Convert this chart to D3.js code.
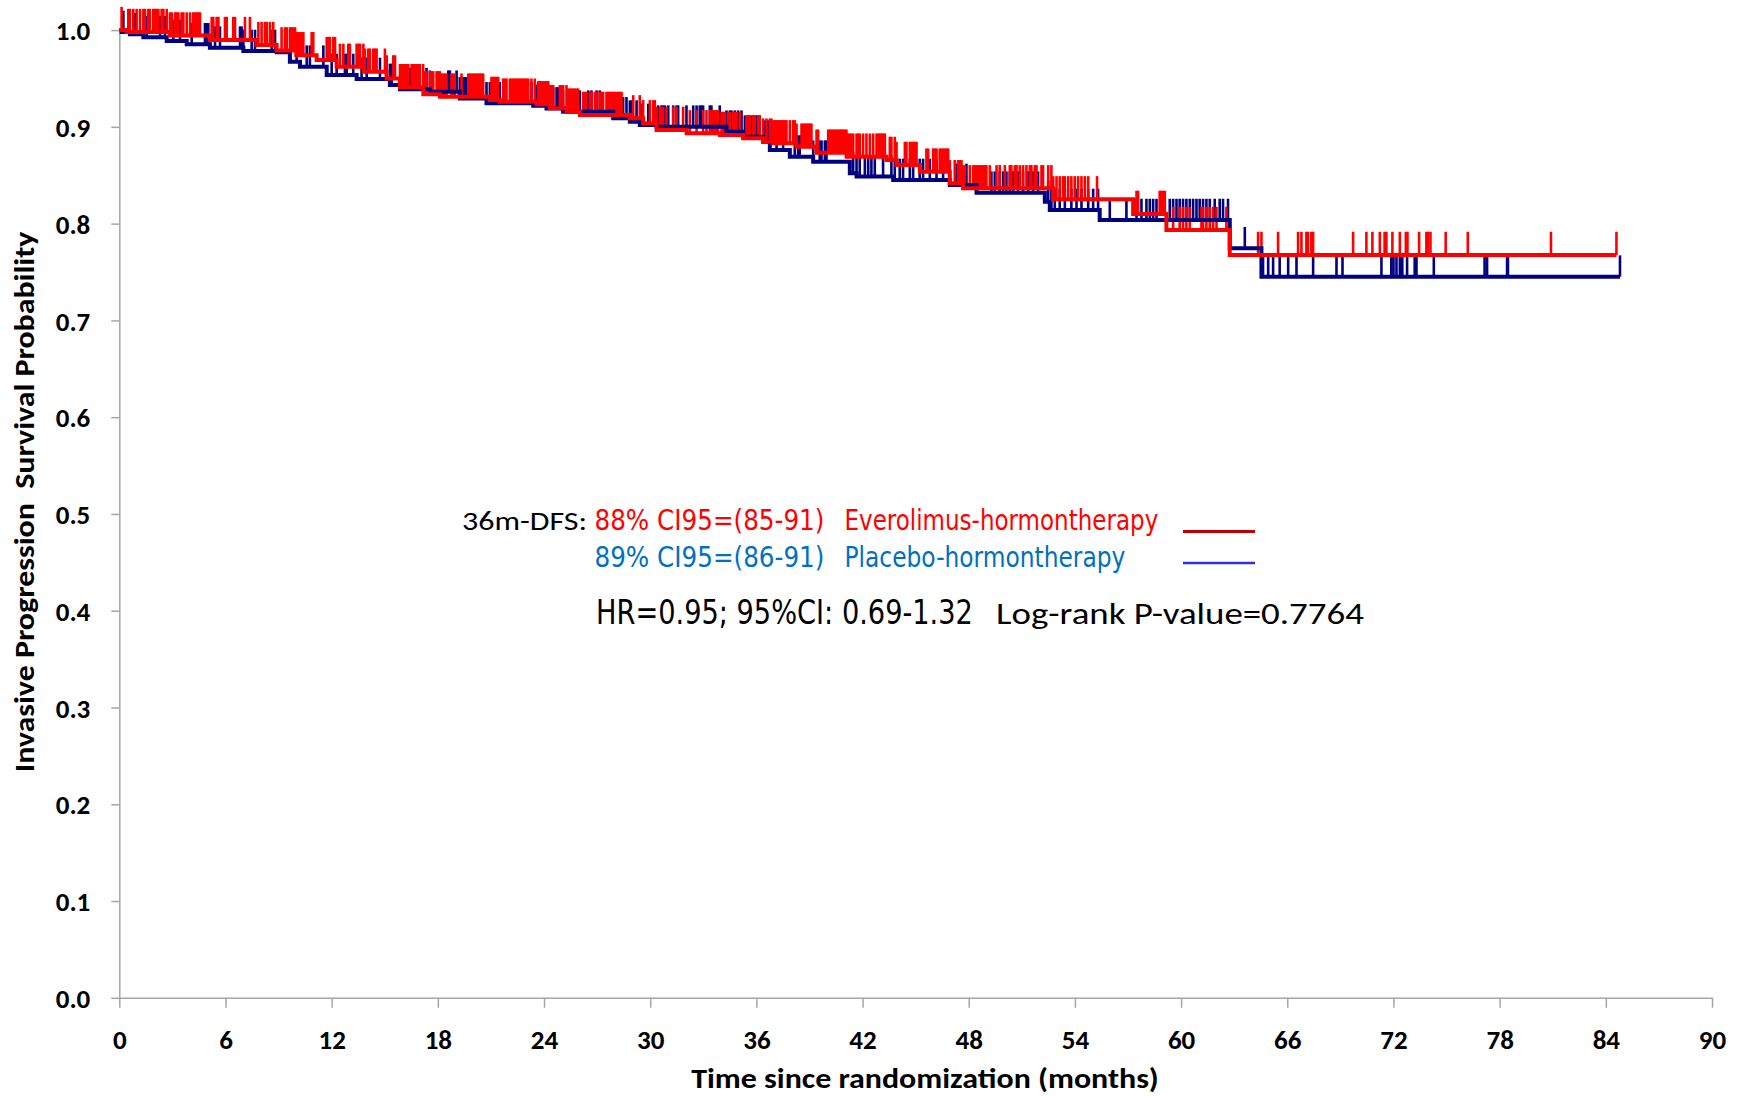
<!DOCTYPE html>
<html><head><meta charset="utf-8">
<script src="https://cdn.jsdelivr.net/npm/d3@7"></script>
<style>
html,body{margin:0;padding:0;background:#fff;}
svg{display:block;}
</style></head>
<body>
<svg id="chart" width="1748" height="1097"></svg>
<script>
// ---------- data ----------
const xTicks = [0,6,12,18,24,30,36,42,48,54,60,66,72,78,84,90];
const yTicks = [0,0.1,0.2,0.3,0.4,0.5,0.6,0.7,0.8,0.9,1.0];
const xTitle = "Time since randomization (months)";
const yTitle = "Invasive Progression  Survival Probability";

// Everolimus-hormontherapy (red): step times (months) and survival after each step
const redStepTimes = [0,0.42,2.86,5.12,7.76,8.89,10.0,11.15,12.28,13.8,15.1,15.86,17.18,18.12,20.94,21.5,23.58,24.33,25.28,26.03,28.85,29.6,30.36,32.06,33.94,35.25,36.38,36.95,38.27,39.4,41.1,43.36,43.92,45.24,46.93,47.68,52.77,57.29,59.17,62.75];
const redStepSurv  = [1.0,0.998,0.9944,0.9897,0.9845,0.979,0.974,0.969,0.962,0.957,0.950,0.941,0.9336,0.9312,0.9278,0.926,0.9233,0.9192,0.9157,0.9123,0.9088,0.9037,0.8968,0.8933,0.8916,0.8882,0.8847,0.883,0.8795,0.8733,0.8692,0.8658,0.8606,0.8537,0.8417,0.8365,0.8251,0.81,0.7934,0.7676];
const redEnd = 84.6;
const redCensor = [0.13,0.51,0.6,0.79,0.98,1.17,1.36,1.45,1.64,1.73,1.92,2.02,2.11,2.21,2.39,2.49,2.68,2.86,2.96,3.15,3.24,3.34,3.52,3.62,3.81,4.0,4.18,4.28,4.37,4.47,4.56,5.22,5.31,5.5,5.6,5.97,6.07,6.44,6.54,7.1,7.38,7.86,8.04,8.23,8.33,8.51,8.7,9.17,9.36,9.46,9.64,9.74,9.83,9.93,10.02,10.12,10.21,10.3,10.4,10.87,10.96,11.72,11.81,11.9,12.09,12.19,12.47,12.66,12.94,13.03,13.41,13.51,13.6,13.79,13.88,14.07,14.16,14.35,14.45,14.54,15.01,15.11,15.48,15.58,15.86,15.95,16.05,16.14,16.24,16.33,16.52,16.61,16.71,16.8,16.9,16.98,17.17,17.27,17.36,17.55,17.64,17.74,17.93,18.02,18.11,18.21,18.3,18.4,18.49,18.77,18.87,18.96,19.34,19.72,19.81,19.9,20.0,20.09,20.19,20.28,20.37,20.47,20.56,21.03,21.13,21.22,21.32,21.41,21.69,21.79,21.88,22.07,22.16,22.26,22.35,22.45,22.54,22.63,22.73,22.82,22.92,23.01,23.11,23.29,23.48,23.67,23.76,23.86,23.95,24.05,24.14,24.24,24.33,24.42,24.52,24.89,24.99,25.08,25.27,25.37,25.46,25.55,25.65,25.74,25.84,25.93,26.21,26.31,26.4,26.59,26.68,26.87,26.97,27.15,27.25,27.34,27.53,27.63,27.72,27.81,27.91,28.0,28.1,28.19,28.28,28.38,29.04,29.41,29.6,29.98,30.17,30.26,30.36,30.54,30.64,30.73,30.92,31.3,31.49,31.86,32.24,32.62,32.99,33.18,33.37,33.46,33.56,33.65,33.75,33.84,34.03,34.12,34.22,34.41,34.5,34.69,34.78,34.88,35.06,35.44,35.54,35.63,35.82,35.91,36.1,36.19,36.38,36.57,36.76,36.85,36.95,37.04,37.14,37.23,37.32,37.42,37.51,37.61,37.7,37.89,38.08,38.17,38.27,38.55,38.64,38.74,38.83,38.93,39.02,39.11,39.4,39.49,40.06,40.15,40.24,40.34,40.43,40.53,40.62,40.71,40.81,40.9,41.0,41.09,41.19,41.28,41.37,41.47,41.66,41.75,41.84,42.03,42.22,42.41,42.6,42.79,42.88,42.97,43.07,43.16,43.26,43.54,43.63,43.82,43.92,44.39,44.48,44.67,44.76,44.86,44.95,45.05,45.61,45.71,45.99,46.08,46.18,46.36,46.46,46.55,46.65,46.74,46.84,46.93,47.21,47.4,47.49,47.59,47.68,47.78,48.06,48.25,48.34,48.44,48.53,48.62,48.72,48.81,48.91,49.0,49.19,49.57,49.75,50.04,50.32,50.41,50.6,50.7,50.88,51.07,51.26,51.45,51.54,51.73,51.83,52.11,52.2,52.49,52.67,52.77,52.96,53.14,53.33,53.43,53.62,53.8,53.99,54.18,54.37,54.56,54.75,55.25,57.48,57.57,58.79,58.89,58.98,59.08,59.55,59.92,60.11,60.3,60.49,61.15,61.24,61.43,61.62,61.81,62.0,62.56,64.35,64.54,65.48,66.61,66.8,67.08,67.17,67.36,67.46,69.72,70.47,70.81,71.23,71.5,71.6,71.94,72.36,72.7,72.79,73.45,73.86,73.95,74.09,74.95,76.2,80.9,84.6];

// Placebo-hormontherapy (navy)
const blueStepTimes = [0,0.13,0.6,1.36,2.68,3.81,5.12,7.01,8.89,9.64,10.21,11.72,13.41,15.29,15.86,17.55,19.24,20.75,23.39,24.14,25.08,27.91,28.85,29.41,30.36,34.31,35.25,36.38,36.76,37.89,39.21,41.28,41.66,43.73,46.93,48.44,52.3,52.58,55.4,62.75,64.54];
const blueStepSurv  = [1.0,0.998,0.9957,0.9925,0.9887,0.9853,0.9818,0.9784,0.977,0.9674,0.9622,0.9536,0.9495,0.9433,0.939,0.9363,0.9294,0.9243,0.9218,0.919,0.9157,0.9088,0.9054,0.902,0.9002,0.895,0.8898,0.8847,0.876,0.8692,0.864,0.852,0.8486,0.8451,0.84,0.832,0.8227,0.8141,0.8037,0.7745,0.7452];
const blueEnd = 84.8;
const blueCensor = [0.23,0.89,1.55,2.3,2.58,3.05,3.43,4.09,4.84,4.94,5.03,5.41,5.69,6.82,6.91,7.01,7.48,7.67,8.61,8.8,10.02,10.59,10.77,11.53,12.0,12.28,12.75,12.85,13.22,13.69,13.98,14.73,15.29,15.39,16.42,16.61,16.8,17.36,17.55,18.59,18.68,19.06,19.24,19.43,19.53,19.62,20.75,20.94,21.5,23.01,23.29,23.58,24.42,24.52,24.71,24.8,25.08,25.84,26.02,26.5,26.68,26.97,27.15,28.47,28.66,28.85,28.94,29.23,29.51,29.89,30.45,30.64,30.73,30.83,31.02,31.3,31.49,31.58,32.05,32.43,32.62,32.8,32.9,32.99,33.37,33.46,33.93,34.31,34.5,34.59,34.78,34.97,35.16,35.35,35.54,35.72,36.01,36.48,36.67,37.14,37.51,38.17,38.36,38.45,39.21,39.58,39.68,39.87,39.96,41.47,41.66,41.84,42.13,42.32,42.5,42.69,43.16,43.63,43.82,44.1,44.29,44.67,44.86,45.23,45.42,45.8,46.18,46.55,47.31,47.87,48.44,49.28,49.47,49.75,49.94,50.13,50.32,50.51,50.79,51.07,51.36,51.64,51.92,52.49,52.67,52.86,53.14,53.43,53.8,54.09,54.37,54.75,55.03,55.31,55.97,56.91,57.48,57.76,58.04,58.23,58.42,58.61,59.36,59.55,59.74,59.92,60.11,60.3,60.49,60.68,60.87,61.05,61.24,61.43,61.62,61.9,62.18,62.37,62.65,63.6,64.63,64.92,65.2,65.57,66.05,66.52,67.46,68.78,69.12,71.32,71.88,72.0,72.17,72.36,72.5,72.77,73.2,73.3,74.28,77.15,77.29,78.42,78.47,84.8];

const legendPrefix = "36m-DFS:";
const legendStats = ["88% CI95=(85-91)", "89% CI95=(86-91)"];
const legendNames = ["Everolimus-hormontherapy", "Placebo-hormontherapy"];
const hrText = "HR=0.95; 95%CI: 0.69-1.32";
const pText = "Log-rank P-value=0.7764";

// ---------- drawing ----------
const svg = d3.select("#chart");
const x = d3.scaleLinear().domain([0, 90]).range([119.3, 1712]);
const y = d3.scaleLinear().domain([0, 1.0]).range([997.8, 30.1]);

const axisColor = "#A6A6A6";
const boldFont = "Carlito, 'Open Sans', 'DejaVu Sans', sans-serif";
const narrowFont = "'Liberation Sans Narrow', 'Arial Narrow', 'DejaVu Sans Condensed', 'Liberation Sans', sans-serif";

// place a text so that its drawn width equals w (horizontal scaling only)
function fitText(sel, tx, ty, w, extra) {
  const nat = sel.node().getComputedTextLength();
  const k = w / nat;
  sel.attr("x", 0).attr("y", 0)
     .attr("transform", `translate(${tx},${ty}) ${extra || ""} scale(${k},1)`);
  return sel;
}

// axes
const gx = svg.append("g").attr("transform", `translate(0,${y(0)})`)
  .call(d3.axisBottom(x).tickValues(xTicks).tickSize(10).tickSizeOuter(0).tickFormat(d3.format("d")));
gx.select(".domain").attr("stroke", axisColor).attr("stroke-width", 1.5);
gx.selectAll(".tick line").attr("stroke", axisColor).attr("stroke-width", 1.5);
gx.selectAll(".tick text").attr("y", 51).attr("dy", 0)
  .attr("font-family", boldFont).attr("font-weight", "bold").attr("font-size", 27).attr("fill", "#000");

const gy = svg.append("g").attr("transform", `translate(${x(0)},0)`)
  .call(d3.axisLeft(y).tickValues(yTicks).tickSize(8).tickSizeOuter(0).tickFormat(d3.format(".1f")));
gy.select(".domain").attr("stroke", axisColor).attr("stroke-width", 1.5);
gy.selectAll(".tick line").attr("stroke", axisColor).attr("stroke-width", 1.5);
gy.selectAll(".tick text").attr("x", -29).attr("dy", "0.36em")
  .attr("font-family", boldFont).attr("font-weight", "bold").attr("font-size", 27).attr("fill", "#000");

// axis titles
fitText(svg.append("text").attr("text-anchor", "middle")
  .attr("font-family", boldFont).attr("font-weight", "bold").attr("font-size", 28).text(xTitle),
  925, 1088, 468);
fitText(svg.append("text").attr("text-anchor", "middle")
  .attr("font-family", boldFont).attr("font-weight", "bold").attr("font-size", 28)
  .style("white-space", "pre").text(yTitle),
  34, 502, 541, "rotate(-90)");

// survival curves
function makeSeries(times, surv, end) {
  const pts = times.map((t, i) => ({t, s: surv[i]}));
  pts.push({t: end, s: surv[surv.length - 1]});
  return pts;
}
function survAt(times, surv, t) {
  const i = d3.bisectRight(times, t) - 1;
  return surv[Math.max(0, i)];
}
const line = d3.line().x(d => x(d.t)).y(d => y(d.s)).curve(d3.curveStepAfter);

const series = [
  {times: blueStepTimes, surv: blueStepSurv, end: blueEnd, censor: blueCensor, color: "#000080", tickH: 0.022, tickW: 2.6},
  {times: redStepTimes, surv: redStepSurv, end: redEnd, censor: redCensor, color: "#FF0000", tickH: 0.024, tickW: 2.6}
];

// censor ticks first (both), then lines
series.forEach(sr => {
  svg.append("g").selectAll("line").data(sr.censor).join("line")
    .attr("x1", d => x(d)).attr("x2", d => x(d))
    .attr("y1", d => y(survAt(sr.times, sr.surv, d)))
    .attr("y2", d => y(survAt(sr.times, sr.surv, d) + sr.tickH))
    .attr("stroke", sr.color).attr("stroke-width", sr.tickW);
});
series.forEach(sr => {
  svg.append("path").datum(makeSeries(sr.times, sr.surv, sr.end))
    .attr("d", line).attr("fill", "none").attr("stroke", sr.color)
    .attr("stroke-width", 4).attr("stroke-linejoin", "miter");
});

// legend / annotation
fitText(svg.append("text").attr("font-family", boldFont).attr("font-size", 26)
  .attr("fill", "#000").text(legendPrefix), 462, 530, 125);
const statColors = ["#FF0000", "#0070C0"];
const rowY = [530, 567];
const statW = [230, 230], nameW = [314, 281];
legendStats.forEach((s, i) => {
  fitText(svg.append("text").attr("font-family", narrowFont).attr("font-size", 28)
    .attr("fill", statColors[i]).text(s), 594.5, rowY[i], statW[i]);
  fitText(svg.append("text").attr("font-family", narrowFont).attr("font-size", 28)
    .attr("fill", statColors[i]).text(legendNames[i]), 844.5, rowY[i], nameW[i]);
});
svg.append("line").attr("x1", 1183).attr("x2", 1255).attr("y1", 531.5).attr("y2", 531.5)
  .attr("stroke", "#C00000").attr("stroke-width", 3);
svg.append("line").attr("x1", 1183).attr("x2", 1255).attr("y1", 563).attr("y2", 563)
  .attr("stroke", "#2F2FE8").attr("stroke-width", 2.5);

fitText(svg.append("text").attr("font-family", narrowFont).attr("font-size", 34)
  .attr("fill", "#000").text(hrText), 596, 624, 377);
fitText(svg.append("text").attr("font-family", boldFont).attr("font-size", 31)
  .attr("fill", "#000").text(pText), 996, 624, 368);
</script>
</body></html>
